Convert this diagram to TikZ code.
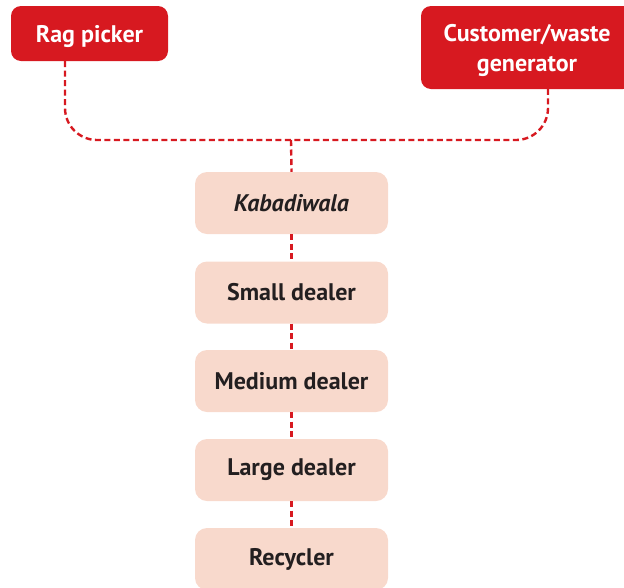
\documentclass[tikz,border=0pt]{standalone}
\usepackage{fontspec}
\setmainfont{PT Sans}
\definecolor{flowred}{HTML}{D71920}
\definecolor{flowpink}{HTML}{F8D9CC}
\definecolor{flowtext}{HTML}{231F20}
% strut that lowers the text block in the red boxes a little
\newcommand{\lowerstrut}{\rule{0pt}{23pt}}
\begin{document}
\begin{tikzpicture}[x=1pt,y=-1pt,
  redbox/.style={fill=flowred, rounded corners=10pt, text=white, font=\bfseries\fontsize{24}{30}\selectfont, align=center, inner sep=0pt},
  pinkbox/.style={fill=flowpink, rounded corners=12pt, text=flowtext, font=\bfseries\fontsize{24}{30}\selectfont, minimum width=193pt, minimum height=62pt, inner sep=0pt},
  conn/.style={draw=flowred, line width=2.4pt, dash pattern=on 6pt off 3.5pt}
]
\useasboundingbox (0,0) rectangle (624,587);
\node[redbox, minimum width=157pt, minimum height=55pt] (rag) at (89.5,33.5) {\lowerstrut Rag picker};
\node[redbox, minimum width=212pt, minimum height=83pt] (gen) at (527,47.5) {\lowerstrut Customer/waste\\generator};
\node[pinkbox] (kab) at (291.5,203) {\itshape Kabadiwala};
\node[pinkbox] (small) at (291.5,292.5) {Small dealer};
\node[pinkbox] (med) at (291.5,381) {Medium dealer};
\node[pinkbox] (large) at (291.5,470) {Large dealer};
\node[pinkbox] (rec) at (291.5,559) {Recycler};
\coordinate (join) at (291,140);
\coordinate (genfoot) at (548,89);
\draw[conn, rounded corners=32pt] (rag.south -| 65,0) |- (join) -| (genfoot);
\draw[conn] (join) -- (kab.north);
\draw[conn] (kab) -- (small);
\draw[conn] (small) -- (med);
\draw[conn] (med) -- (large);
\draw[conn] (large) -- (rec);
\end{tikzpicture}
\end{document}
